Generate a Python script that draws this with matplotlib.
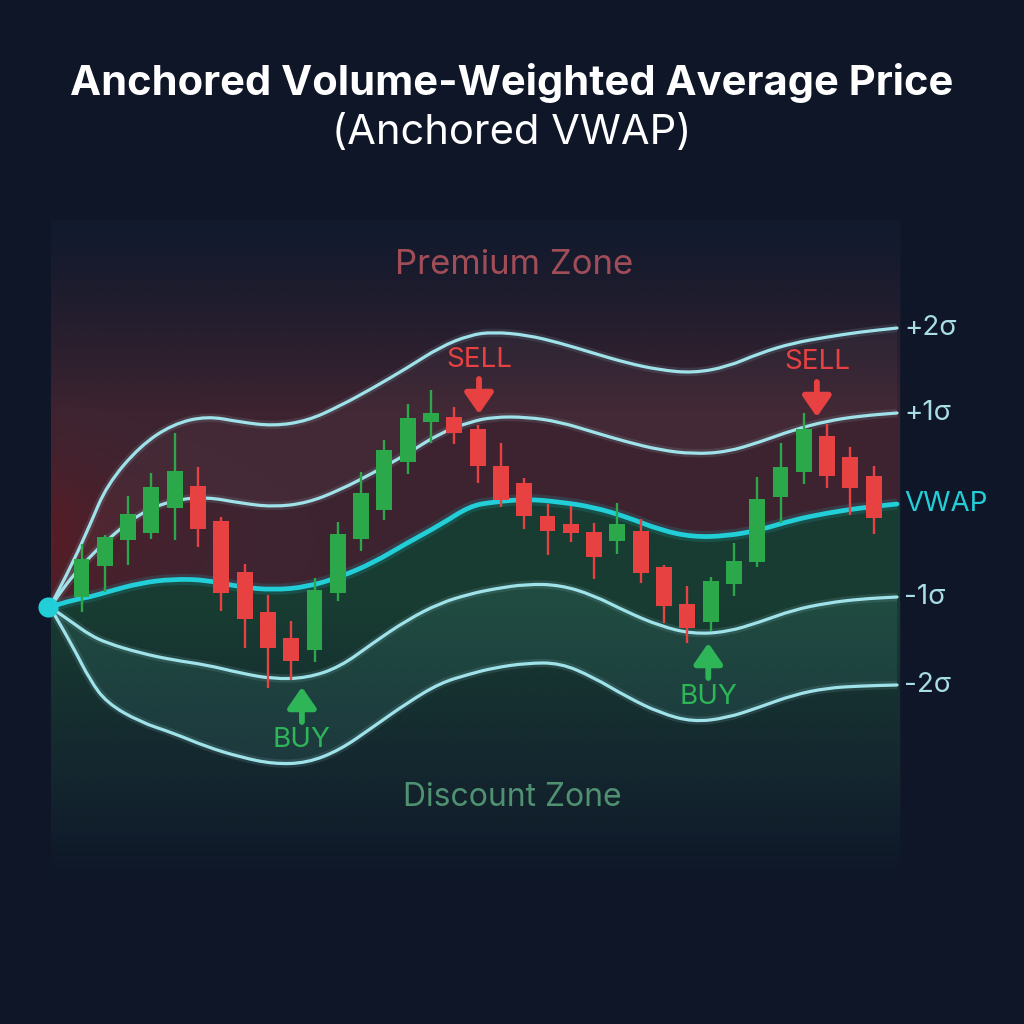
import numpy as np
import matplotlib
matplotlib.use("Agg")
import matplotlib.pyplot as plt
from matplotlib.patches import PathPatch
from matplotlib.path import Path
from matplotlib.colors import to_rgb

plt.rcParams['font.family'] = ['Inter', 'DejaVu Sans']

# ---------------- data ----------------
title = "Anchored Volume-Weighted Average Price"
subtitle = "(Anchored VWAP)"

candle_idx = np.arange(35)
opens  = [100.6, 106.8, 112.0, 113.4, 118.4, 122.8, 115.8, 105.6, 97.6, 92.4,
          90.0, 101.4, 112.2, 118.0, 127.6, 135.6, 136.6, 134.2, 126.8, 123.4,
          116.8, 115.2, 113.6, 111.8, 113.8, 106.6, 99.2, 95.6, 103.2, 107.6,
          120.6, 125.6, 132.8, 128.6, 124.8]
highs  = [111.2, 113.0, 120.8, 125.4, 133.4, 126.6, 116.6, 107.2, 101.0, 95.8,
          104.4, 115.6, 125.6, 132.0, 139.2, 142.0, 138.6, 135.0, 131.4, 124.4,
          119.2, 118.8, 115.4, 119.4, 116.2, 107.0, 102.8, 104.6, 111.4, 124.6,
          131.4, 137.4, 135.2, 130.6, 126.8]
lows   = [97.6, 101.6, 107.0, 112.2, 112.0, 110.6, 97.8, 90.4, 82.4, 84.0,
          87.6, 99.8, 109.8, 116.0, 125.2, 131.4, 131.2, 123.4, 118.6, 114.2,
          109.0, 111.6, 104.2, 109.2, 103.4, 95.4, 91.4, 93.8, 100.8, 106.6,
          115.4, 123.2, 122.4, 117.0, 113.2]
closes = [108.2, 112.6, 117.2, 122.6, 125.8, 114.2, 101.4, 96.2, 90.4, 87.8,
          102.0, 113.2, 121.4, 130.0, 136.4, 137.4, 133.4, 126.8, 120.0, 116.8,
          113.8, 113.4, 108.6, 115.2, 105.4, 98.8, 94.4, 103.8, 107.8, 120.2,
          126.6, 134.2, 124.8, 122.4, 116.4]

band_x = [-1.35, -0.36, 0.36, 1.09, 2.51, 3.93, 5.39, 6.80, 8.22, 9.68, 11.09,
          12.51, 13.97, 15.39, 16.67, 17.66, 19.12, 20.54, 21.95, 23.41, 24.83,
          26.24, 27.70, 29.12, 30.54, 32.00, 33.41, 35.00]
upper2 = [98.6, 107.6, 115.0, 123.0, 130.8, 135.2, 136.8, 135.6, 134.8, 135.8,
          138.8, 142.4, 146.4, 150.6, 153.0, 153.6, 153.0, 151.4, 149.4, 147.4,
          146.0, 145.4, 146.6, 149.4, 151.4, 152.6, 153.6, 154.4]
upper1 = [98.6, 105.0, 108.6, 112.0, 117.4, 120.0, 120.6, 119.4, 118.6, 119.4,
          122.0, 125.4, 129.2, 133.4, 135.6, 136.6, 136.6, 135.6, 133.6, 131.6,
          130.0, 129.2, 129.6, 131.6, 134.0, 135.8, 136.8, 137.4]
vwap   = [98.6, 100.0, 100.6, 101.6, 103.4, 104.2, 104.0, 102.6, 102.0, 102.6,
          104.6, 107.4, 111.4, 115.0, 118.8, 119.6, 120.2, 119.6, 118.6, 116.6,
          114.0, 112.6, 112.8, 114.0, 116.0, 117.4, 118.4, 119.2]
lower1 = [98.6, 95.4, 93.0, 91.4, 89.4, 88.0, 87.0, 85.4, 84.2, 84.4,
          86.6, 91.4, 96.0, 99.4, 101.2, 102.2, 103.2, 103.0, 101.0, 97.6,
          94.8, 93.2, 93.6, 95.6, 98.0, 99.4, 100.2, 100.6]
lower2 = [98.6, 90.6, 84.0, 79.4, 75.6, 73.4, 70.6, 68.6, 67.2, 67.4,
          70.0, 74.6, 79.4, 83.4, 85.2, 86.4, 87.4, 87.4, 84.6, 80.6,
          77.4, 75.6, 76.4, 78.6, 81.0, 82.4, 82.8, 83.0]

band_labels = ["+2σ", "+1σ", "VWAP", "-1σ", "-2σ"]

sell_x = [17.06, 31.56]
sell_tip = [137.2, 136.6]
sell_base = [144.2, 143.6]
sell_text_y = [148.0, 147.6]

buy_x = [9.46, 26.9]
buy_tip = [82.6, 91.4]
buy_base = [75.6, 84.4]
buy_text_y = [72.0, 80.6]

zone_labels = ["Premium Zone", "Discount Zone"]

# ---------------- style ----------------
BG = '#0e1628'
GREEN = '#2aa84a'
RED = '#e84142'
BAND = '#a0e2ea'
VWAPC = '#22cfd8'

fig = plt.figure(figsize=(10.24, 10.24), dpi=100, facecolor=BG)
ax = fig.add_axes([0, 0, 1, 1])
ax.set_facecolor(BG)
ax.set_xlim(-3.498, 40.45)
ax.set_ylim(15.2, 220)
ax.axis('off')


def smooth_segments(xs, ys):
    """Quadratic-Bezier path through the read points (rendered by matplotlib)."""
    pts = list(zip(xs, ys))
    verts = [pts[0]]
    codes = [Path.MOVETO]
    mids = [((pts[i][0] + pts[i + 1][0]) / 2, (pts[i][1] + pts[i + 1][1]) / 2)
            for i in range(len(pts) - 1)]
    verts.append(mids[0]); codes.append(Path.LINETO)
    for i in range(1, len(pts) - 1):
        verts += [pts[i], mids[i]]
        codes += [Path.CURVE3, Path.CURVE3]
    verts.append(pts[-1]); codes.append(Path.LINETO)
    return verts, codes


def line_path(xs, ys):
    v, c = smooth_segments(xs, ys)
    return Path(v, c)


def region_path(xs, ytop, ybot):
    v1, c1 = smooth_segments(xs, ytop)
    v2, c2 = smooth_segments(xs[::-1], ybot[::-1])
    c2 = [Path.LINETO] + c2[1:]
    v = v1 + v2 + [v1[0]]
    c = c1 + c2 + [Path.CLOSEPOLY]
    return Path(v, c)


px0, px1 = -1.31, 35.13
py0, py1 = 42.0, 176.0

# base panel with soft fade at bottom
H, W = 300, 300
ys = np.linspace(py1, py0, H)[:, None]
xs = np.linspace(px0, px1, W)[None, :]
base_rgb = np.array(to_rgb('#131b2e'))
base = np.zeros((H, W, 4))
base[..., :3] = base_rgb
base[..., 3] = np.clip((ys - py0) / 25.0, 0, 1) * 0.9 + 0 * xs
ax.imshow(base, extent=[px0, px1, py0, py1], aspect='auto', origin='upper',
          zorder=0, interpolation='bilinear')

# red gradient above VWAP
red_a = np.clip((py1 - ys) / (py1 - 138.0), 0, 1) ** 1.3
red_rgb = np.array(to_rgb('#3d2431'))
glow_rgb = np.array(to_rgb('#561d26'))
glow = np.exp(-(xs - px0) / 3.5) * np.exp(-((ys - 112.0) / 16.0) ** 2)
img = np.zeros((H, W, 4))
for k in range(3):
    img[..., k] = red_rgb[k] * (1 - glow) + glow_rgb[k] * glow
img[..., 3] = np.clip(red_a + glow * 0.4, 0, 1)
im_red = ax.imshow(img, extent=[px0, px1, py0, py1], aspect='auto',
                   origin='upper', zorder=1, interpolation='bilinear')
top_x = [px0] + band_x[1:] + [px1]
top_y = [vwap[0]] + vwap[1:] + [vwap[-1]]
clip_top = region_path(top_x, [py1] * len(top_x), top_y)
patch_top = PathPatch(clip_top, transform=ax.transData, facecolor='none',
                      edgecolor='none')
ax.add_patch(patch_top)
im_red.set_clip_path(patch_top)

# green gradient below VWAP
green_rgb = np.array(to_rgb('#183c32'))
green_a = np.clip((ys - py0) / (98.0 - py0), 0, 1) ** 1.1
img2 = np.zeros((H, W, 4))
img2[..., :3] = green_rgb
img2[..., 3] = green_a + 0 * xs
im_g = ax.imshow(img2, extent=[px0, px1, py0, py1], aspect='auto',
                 origin='upper', zorder=1, interpolation='bilinear')
clip_bot = region_path(top_x, top_y, [py0] * len(top_x))
patch_bot = PathPatch(clip_bot, transform=ax.transData, facecolor='none',
                      edgecolor='none')
ax.add_patch(patch_bot)
im_g.set_clip_path(patch_bot)

# band fills
ax.add_patch(PathPatch(region_path(band_x, upper2, upper1), facecolor='#ffffff',
                       alpha=0.03, lw=0, zorder=2))
ax.add_patch(PathPatch(region_path(band_x, lower1, lower2), facecolor='#5fb8ae',
                       alpha=0.12, lw=0, zorder=2))

# band lines with glow
for arr in [upper2, upper1, lower1, lower2]:
    p = line_path(band_x, arr)
    ax.add_patch(PathPatch(p, facecolor='none', edgecolor=BAND, lw=6,
                           alpha=0.12, zorder=3, joinstyle='round'))
    ax.add_patch(PathPatch(p, facecolor='none', edgecolor=BAND, lw=2.3,
                           zorder=4, joinstyle='round', capstyle='round'))
pv = line_path(band_x, vwap)
ax.add_patch(PathPatch(pv, facecolor='none', edgecolor=VWAPC, lw=8, alpha=0.15,
                       zorder=3, joinstyle='round'))
ax.add_patch(PathPatch(pv, facecolor='none', edgecolor=VWAPC, lw=3.4,
                       zorder=4, joinstyle='round', capstyle='round'))

# candles
o = np.array(opens); c = np.array(closes)
h = np.array(highs); l = np.array(lows)
cols = [GREEN if cc >= oo else RED for oo, cc in zip(o, c)]
ax.vlines(candle_idx, l, h, colors=cols, lw=1.7, zorder=5)
ax.bar(candle_idx, np.abs(c - o), bottom=np.minimum(o, c), width=0.68,
       color=cols, zorder=6, linewidth=0)

# anchor
ax.scatter([band_x[0] - 0.08], [vwap[0]], s=210, color=VWAPC, zorder=7,
           linewidths=0)

# signals
BUYC = '#2db558'
for xx, tip, base_y, ty in zip(sell_x, sell_tip, sell_base, sell_text_y):
    ax.annotate('', xy=(xx, tip), xytext=(xx, base_y),
                arrowprops=dict(arrowstyle='-|>,head_width=0.43,head_length=0.62',
                                lw=4.2, color=RED, mutation_scale=20,
                                shrinkA=0, shrinkB=0), zorder=8)
    ax.text(xx, ty, "SELL", color=RED, fontsize=20, ha='center', va='center',
            zorder=8)
for xx, tip, base_y, ty in zip(buy_x, buy_tip, buy_base, buy_text_y):
    ax.annotate('', xy=(xx, tip), xytext=(xx, base_y),
                arrowprops=dict(arrowstyle='-|>,head_width=0.43,head_length=0.62',
                                lw=4.2, color=BUYC, mutation_scale=20,
                                shrinkA=0, shrinkB=0), zorder=8)
    ax.text(xx, ty, "BUY", color=BUYC, fontsize=20, ha='center',
            va='center', zorder=8)

# right labels
ends = [upper2[-1], upper1[-1], vwap[-1], lower1[-1], lower2[-1]]
for lab, yy in zip(band_labels, ends):
    col = VWAPC if lab == "VWAP" else '#a8dde5'
    ax.text(35.3, yy, lab, color=col, fontsize=20, ha='left', va='center',
            zorder=8)

# zone labels
ax.text(18.56, 167.0, zone_labels[0], color='#a04d58', fontsize=25,
        ha='center', va='center', zorder=8)
ax.text(18.48, 60.4, zone_labels[1], color='#4f9171', fontsize=23,
        ha='center', va='center', zorder=8)

# titles
fig.text(0.5, 1 - 83 / 1024, title, ha='center', va='center', fontsize=30,
         fontweight='bold', color='white')
fig.text(0.5, 1 - 133 / 1024, subtitle, ha='center', va='center', fontsize=30,
         color='white')

fig.savefig('out.png', dpi=100, facecolor=BG)
